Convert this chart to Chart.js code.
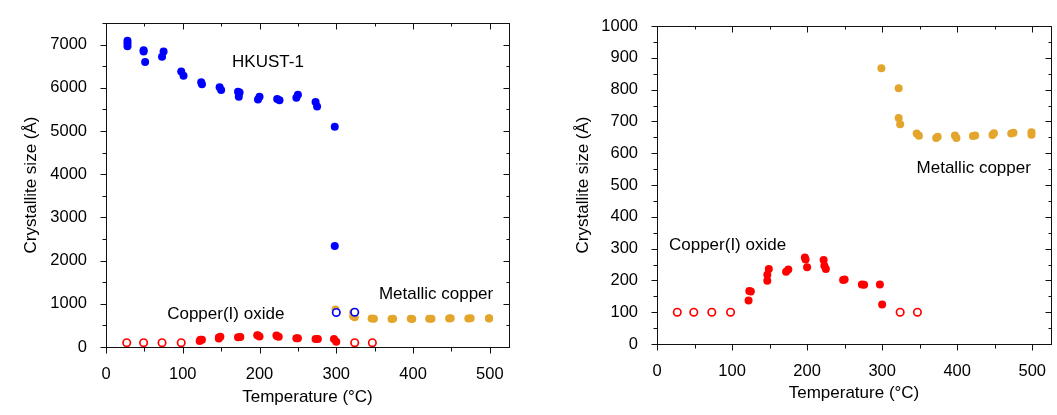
<!DOCTYPE html>
<html>
<head>
<meta charset="utf-8">
<title>Crystallite size vs temperature</title>
<script src="https://cdn.jsdelivr.net/npm/chart.js@4.4.1/dist/chart.umd.min.js"></script>
<style>
  html, body { margin: 0; padding: 0; background: #fff; }
  #wrap { position: relative; width: 1057px; height: 415px; overflow: hidden; background: #fff; }
  #leftChart { position: absolute; left: 0; top: 0; }
  #rightChart { position: absolute; left: 528px; top: 0; }
</style>
</head>
<body>
<div id="wrap">
  <canvas id="leftChart" width="528" height="415"></canvas>
  <canvas id="rightChart" width="529" height="415"></canvas>
</div>
<script>
// HKUST-1 (filled blue)
const hkustTemp = [28, 28, 28, 49, 49, 51, 73, 75, 98, 101, 124, 125, 148, 150, 172, 173, 174, 198, 200, 223, 226, 248, 250, 273, 275, 298, 298];
const hkustSize = [7090, 7030, 6960, 6870, 6840, 6600, 6720, 6840, 6380, 6280, 6130, 6080, 6010, 5950, 5910, 5790, 5890, 5730, 5790, 5740, 5710, 5770, 5840, 5670, 5570, 5100, 2340];

// HKUST-1 (open blue)
const hkustOpenTemp = [300, 324];
const hkustOpenSize = [800, 805];

// Copper(I) oxide (filled red)
const oxideTemp = [122, 123, 125, 147, 147, 149, 172, 175, 197, 198, 200, 222, 223, 225, 248, 250, 273, 276, 297, 300];
const oxideSize = [137, 167, 165, 199, 218, 236, 227, 234, 272, 266, 241, 264, 246, 236, 201, 203, 187, 186, 187, 124];

// Copper(I) oxide (open red)
const oxideOpenTemp = [27, 49, 73, 98, 324, 347];
const oxideOpenSize = [100, 100, 100, 100, 100, 100];

// Metallic copper (orange)
const copperTemp = [299, 322, 322, 324, 346, 349, 372, 374, 397, 399, 421, 424, 447, 449, 472, 475, 499, 499];
const copperSize = [867, 804, 711, 691, 662, 655, 648, 652, 656, 648, 654, 656, 657, 663, 662, 664, 666, 658];

// axis ticks
const tempTicks = [0, 100, 200, 300, 400, 500];
const leftSizeTicks = [0, 1000, 2000, 3000, 4000, 5000, 6000, 7000];
const rightSizeTicks = [0, 100, 200, 300, 400, 500, 600, 700, 800, 900, 1000];

const BLUE = '#0000ff';
const RED = '#ff0000';
const ORANGE = '#e3a52b';

function pts(xs, ys) {
    return xs.map((v, i) => ({ x: v, y: ys[i] }));
}

function filled(data, color) {
    return { data: data, pointRadius: 4, pointBackgroundColor: color, pointBorderColor: color, pointBorderWidth: 0, showLine: false };
}

function hollow(data, color) {
    return { data: data, pointRadius: 3.7, pointBackgroundColor: '#fff', pointBorderColor: color, pointBorderWidth: 1.7, showLine: false };
}

// frame on all four sides, ticks out on left/bottom, in on top/right
const frameTicks = {
    id: 'frameTicks',
    beforeDatasetsDraw(chart, args, opts) {
        const { ctx, chartArea: a, scales: { x, y } } = chart;
        const L = Math.round(a.left) + 0.5, R = Math.round(a.right) + 0.5;
        const T = Math.round(a.top) + 0.5, B = Math.round(a.bottom) + 0.5;
        ctx.save();
        ctx.strokeStyle = '#111';
        ctx.lineWidth = 1;
        ctx.strokeRect(L, T, R - L, B - T);
        ctx.beginPath();
        for (let v = x.min; v <= x.max; v += opts.xMinor) {
            const major = v % opts.xMajor === 0;
            const px = Math.round(x.getPixelForValue(v)) + 0.5;
            ctx.moveTo(px, B); ctx.lineTo(px, B + (major ? 6 : 4));
            ctx.moveTo(px, T); ctx.lineTo(px, T + (major ? 6 : 3));
        }
        for (let v = y.min; v <= y.max; v += opts.yMinor) {
            const major = v % opts.yMajor === 0;
            const py = Math.round(y.getPixelForValue(v)) + 0.5;
            ctx.moveTo(L, py); ctx.lineTo(L - (major ? 6 : 4), py);
            ctx.moveTo(R, py); ctx.lineTo(R - (major ? 6 : 3), py);
        }
        ctx.stroke();
        ctx.restore();
    },
    afterDraw(chart, args, opts) {
        const { ctx, scales: { x, y } } = chart;
        ctx.save();
        ctx.fillStyle = '#000';
        ctx.font = "17px 'Liberation Sans', Arial, sans-serif";
        ctx.textAlign = 'center';
        ctx.textBaseline = 'middle';
        (opts.notes || []).forEach(n => {
            ctx.fillText(n.text, x.getPixelForValue(n.x), y.getPixelForValue(n.y));
        });
        ctx.restore();
    }
};

function makeOptions(cfg) {
    return {
        responsive: false,
        animation: false,
        events: [],
        layout: { padding: { top: cfg.top, right: cfg.right, left: 0, bottom: 0 } },
        plugins: {
            legend: { display: false },
            tooltip: { enabled: false },
            frameTicks: { xMajor: 100, xMinor: 50, yMajor: cfg.yMajor, yMinor: cfg.yMajor / 2, notes: cfg.notes }
        },
        scales: {
            x: {
                type: 'linear',
                min: 0,
                max: 525,
                grid: { display: false },
                border: { display: false },
                afterBuildTicks: s => { s.ticks = tempTicks.map(v => ({ value: v })); },
                afterFit: s => { s.height = cfg.xHeight; },
                ticks: { color: '#000', padding: 10, font: { size: 16.5 }, maxRotation: 0, callback: v => String(v) },
                title: { display: true, text: 'Temperature (°C)', color: '#000', font: { size: 17 }, padding: { top: 0, bottom: cfg.xTitlePad } }
            },
            y: {
                type: 'linear',
                min: 0,
                max: cfg.yMax,
                grid: { display: false },
                border: { display: false },
                afterBuildTicks: s => { s.ticks = cfg.yTicks.map(v => ({ value: v })); },
                afterFit: s => { s.width = cfg.yWidth; },
                ticks: { color: '#000', padding: 11, font: { size: 16.5 }, callback: v => String(v) },
                title: { display: true, text: 'Crystallite size (Å)', color: '#000', font: { size: 17 }, padding: { top: cfg.yTitlePad, bottom: 0 } }
            }
        }
    };
}

document.addEventListener('DOMContentLoaded', function () {
    Chart.defaults.font.family = "'Liberation Sans', Arial, sans-serif";
    Chart.defaults.color = '#000';

    new Chart(document.getElementById('leftChart'), {
        type: 'scatter',
        data: {
            datasets: [
                hollow(pts(hkustOpenTemp, hkustOpenSize), BLUE),
                filled(pts(hkustTemp, hkustSize), BLUE),
                filled(pts(copperTemp, copperSize), ORANGE),
                filled(pts(oxideTemp, oxideSize), RED),
                hollow(pts(oxideOpenTemp, oxideOpenSize), RED)
            ]
        },
        options: makeOptions({
            top: 23, right: 19, xHeight: 68, yWidth: 106,
            yMax: 7500, yMajor: 1000, yTicks: leftSizeTicks,
            xTitlePad: 7, yTitlePad: 21,
            notes: [
                { text: 'HKUST-1', x: 211, y: 6600 },
                { text: 'Copper(I) oxide', x: 156, y: 760 },
                { text: 'Metallic copper', x: 430, y: 1210 }
            ]
        }),
        plugins: [frameTicks]
    });

    new Chart(document.getElementById('rightChart'), {
        type: 'scatter',
        data: {
            datasets: [
                filled(pts(copperTemp, copperSize), ORANGE),
                filled(pts(oxideTemp, oxideSize), RED),
                hollow(pts(oxideOpenTemp, oxideOpenSize), RED)
            ]
        },
        options: makeOptions({
            top: 26, right: 6, xHeight: 71, yWidth: 129,
            yMax: 1000, yMajor: 100, yTicks: rightSizeTicks,
            xTitlePad: 11, yTitlePad: 45,
            notes: [
                { text: 'Metallic copper', x: 422, y: 552 },
                { text: 'Copper(I) oxide', x: 94, y: 310 }
            ]
        }),
        plugins: [frameTicks]
    });
});
</script>
</body>
</html>
